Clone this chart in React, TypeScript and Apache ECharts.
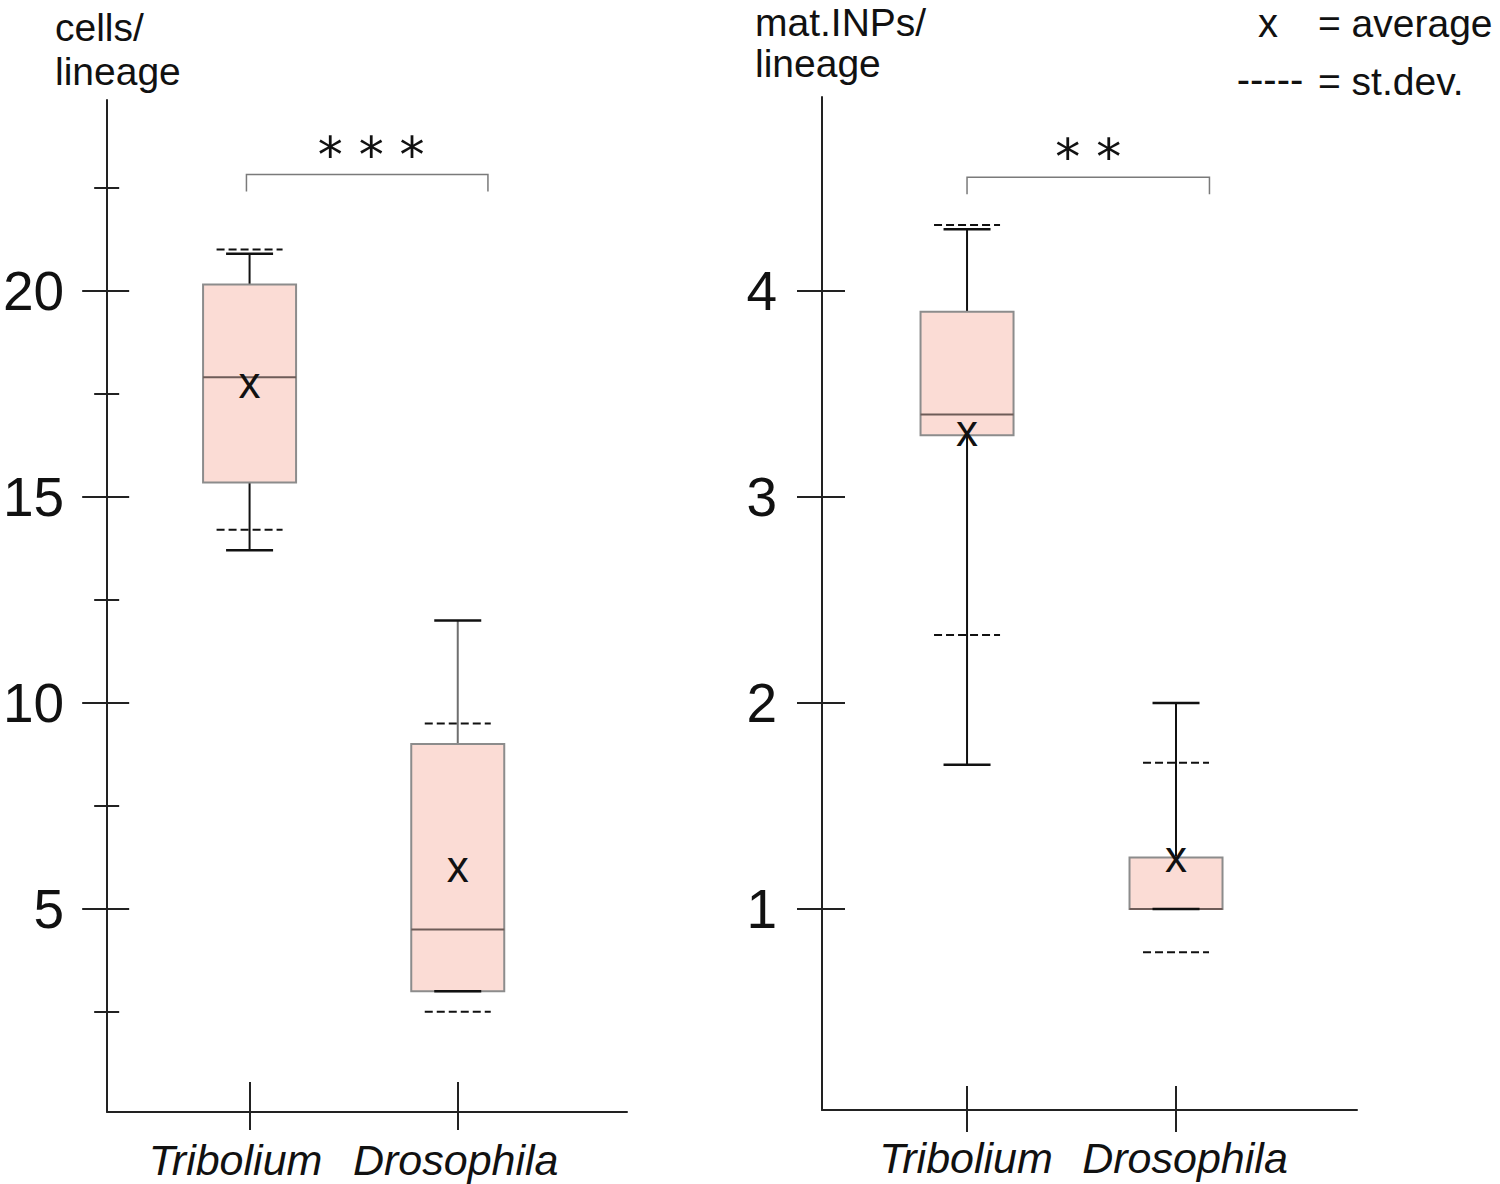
import React, { useEffect, useRef } from 'react';
import * as echarts from 'echarts';

// ---------- data ----------
const categories = ['Tribolium', 'Drosophila'];
const categoryPos = [1, 2];

// cells / lineage
const cellsWhiskerLow = [13.7, 3.0];
const cellsQ1 = [15.35, 3.0];
const cellsMedian = [17.9, 4.5];
const cellsQ3 = [20.15, 9.0];
const cellsWhiskerHigh = [20.9, 12.0];
const cellsSdLow = [14.2, 2.5];
const cellsSdHigh = [21.0, 9.5];
const cellsMean = [17.7, 5.95];

// mat.INPs / lineage
const inpWhiskerLow = [1.7, 1.0];
const inpQ1 = [3.3, 1.0];
const inpMedian = [3.4, 1.0];
const inpQ3 = [3.9, 1.25];
const inpWhiskerHigh = [4.3, 2.0];
const inpSdLow = [2.33, 0.79];
const inpSdHigh = [4.32, 1.71];
const inpMean = [3.31, 1.24];

// tick labels
const cellsTicks = [5, 10, 15, 20];
const cellsMinorTicks = [2.5, 7.5, 12.5, 17.5, 22.5];
const inpTicks = [1, 2, 3, 4];

// significance brackets [from, to, level]
const cellsBracket = [0.985, 2.145, 22.82];
const inpBracket = [1.0, 2.16, 4.553];
const significance = ['* * *', '* *'];

// ---------- styles ----------
const FONT = 'Liberation Sans';
const INK = '#111111';
const BOX_FILL = '#fbdcd5';
const BOX_STROKE = '#8c8c8c';
const MEDIAN_STROKE = '#6e5c58';
const cellsWhiskerColors = ['#111111', '#6f6f6f'];
const inpWhiskerColors = ['#111111', '#111111'];
// horizontal nudges of the category labels (px), per panel
const cellsLabelShift = [-14, -2];
const inpLabelShift = [-1, 9];

function buildRows(
  wl: number[], q1: number[], md: number[], q3: number[], wh: number[],
  sl: number[], sh: number[], mn: number[]
) {
  return categoryPos.map((p, i) => [p, wl[i], q1[i], md[i], q3[i], wh[i], sl[i], sh[i], mn[i]]);
}

function makeBoxRenderer(whiskerColors: string[]) {
  return (params: any, api: any) => {
    const xv = api.value(0);
    const cx = api.coord([xv, api.value(1)])[0];
    const y = (i: number) => api.coord([xv, api.value(i)])[1];
    const yWl = y(1), yQ1 = y(2), yMd = y(3), yQ3 = y(4), yWh = y(5), ySl = y(6), ySh = y(7), yMn = y(8);
    const hb = 46.5;
    const hc = 23.5;
    const hd = 33;
    const wc = whiskerColors[params.dataIndex] || INK;
    const line = (x1: number, y1: number, x2: number, y2: number, style: any) => ({
      type: 'line',
      shape: { x1, y1, x2, y2 },
      style,
    });
    return {
      type: 'group',
      children: [
        line(cx, yQ3, cx, yWh, { stroke: wc, lineWidth: 2 }),
        line(cx, yQ1, cx, yWl, { stroke: wc, lineWidth: 2 }),
        {
          type: 'rect',
          shape: { x: cx - hb, y: yQ3, width: hb * 2, height: yQ1 - yQ3 },
          style: { fill: BOX_FILL, stroke: BOX_STROKE, lineWidth: 2 },
        },
        line(cx - hb, yMd, cx + hb, yMd, { stroke: MEDIAN_STROKE, lineWidth: 2 }),
        line(cx - hc, yWh, cx + hc, yWh, { stroke: INK, lineWidth: 2.5 }),
        line(cx - hc, yWl, cx + hc, yWl, { stroke: INK, lineWidth: 2.5 }),
        line(cx - hd, ySh, cx + hd, ySh, { stroke: INK, lineWidth: 2, lineDash: [8, 4] }),
        line(cx - hd, ySl, cx + hd, ySl, { stroke: INK, lineWidth: 2, lineDash: [8, 4] }),
        {
          type: 'text',
          x: cx,
          y: yMn - 3,
          style: {
            text: 'x', fontSize: 44, fontFamily: FONT, fill: INK,
            align: 'center', verticalAlign: 'middle',
          },
        },
      ],
    };
  };
}

function makeBracketRenderer(labelIndex: number) {
  return (params: any, api: any) => {
    const p1 = api.coord([api.value(0), api.value(2)]);
    const p2 = api.coord([api.value(1), api.value(2)]);
    const drop = 17;
    return {
      type: 'group',
      children: [
        {
          type: 'polyline',
          shape: { points: [[p1[0], p1[1] + drop], [p1[0], p1[1]], [p2[0], p2[1]], [p2[0], p2[1] + drop]] },
          style: { stroke: '#7a7a7a', lineWidth: 1.5, fill: 'none' },
        },
        {
          type: 'text',
          x: (p1[0] + p2[0]) / 2 + (labelIndex === 0 ? 4 : 0),
          y: p1[1] - 20,
          style: {
            text: significance[labelIndex], fontSize: 50, fontFamily: 'DejaVu Sans', fill: INK,
            align: 'center', verticalAlign: 'middle',
          },
        },
      ],
    };
  };
}

function catXAxis(gridIndex: number, min: number, max: number, inside: boolean, len: number, shifts: number[]) {
  const rich: any = {};
  shifts.forEach((s, i) => {
    rich['c' + i] = {
      fontSize: 43,
      fontStyle: 'italic',
      fontFamily: FONT,
      color: INK,
      padding: s < 0 ? [0, -2 * s, 0, 0] : [0, 0, 0, 2 * s],
    };
  });
  return {
    type: 'value',
    gridIndex,
    position: 'bottom',
    min,
    max,
    axisLine: { show: !inside, onZero: false, lineStyle: { color: '#222', width: 2 } },
    axisTick: { show: true, inside, length: len, customValues: categoryPos, lineStyle: { color: '#222', width: 2 } },
    axisLabel: {
      show: !inside,
      customValues: categoryPos,
      formatter: (v: number) => {
        const i = categoryPos.indexOf(v);
        return i < 0 ? '' : `{c${i}|${categories[i]}}`;
      },
      rich,
      fontSize: 43,
      fontStyle: 'italic',
      fontFamily: FONT,
      color: INK,
      margin: 26,
    },
    splitLine: { show: false },
  };
}

function valYAxis(
  gridIndex: number, min: number, max: number, ticks: number[], inside: boolean, len: number,
  showLine: boolean, showLabel: boolean, margin: number
) {
  return {
    type: 'value',
    gridIndex,
    position: 'left',
    min,
    max,
    axisLine: { show: showLine, onZero: false, lineStyle: { color: '#222', width: 2 } },
    axisTick: { show: true, inside, length: len, customValues: ticks, lineStyle: { color: '#222', width: 2 } },
    axisLabel: {
      show: showLabel,
      customValues: ticks,
      fontSize: 55,
      fontFamily: FONT,
      color: INK,
      margin,
    },
    splitLine: { show: false },
  };
}

export default function App() {
  const ref = useRef<HTMLDivElement>(null);

  useEffect(() => {
    if (!ref.current) return;
    const chart = echarts.init(ref.current, undefined, { renderer: 'svg' });

    const cellsRows = buildRows(cellsWhiskerLow, cellsQ1, cellsMedian, cellsQ3, cellsWhiskerHigh, cellsSdLow, cellsSdHigh, cellsMean);
    const inpRows = buildRows(inpWhiskerLow, inpQ1, inpMedian, inpQ3, inpWhiskerHigh, inpSdLow, inpSdHigh, inpMean);

    const label = (text: string, x: number, y: number, align = 'left', fontSize = 39) => ({
      type: 'text',
      x,
      y,
      style: {
        text, fontSize, fontFamily: FONT, fill: INK, align, verticalAlign: 'middle',
        lineHeight: Math.round(fontSize * 0.9),
      },
    });

    chart.setOption({
      animation: false,
      backgroundColor: '#ffffff',
      grid: [
        { left: 105, top: 100, width: 522, height: 1012 },
        { left: 822, top: 97, width: 535, height: 1013 },
      ],
      xAxis: [
        catXAxis(0, 0.316, 2.813, false, 18, cellsLabelShift),
        catXAxis(0, 0.316, 2.813, true, 30, cellsLabelShift),
        catXAxis(1, 0.306, 2.866, false, 22, inpLabelShift),
        catXAxis(1, 0.306, 2.866, true, 24, inpLabelShift),
      ],
      yAxis: [
        valYAxis(0, 0.07, 24.63, cellsTicks, false, 25, true, true, 43),
        valYAxis(0, 0.07, 24.63, cellsTicks, true, 22, false, false, 43),
        valYAxis(0, 0.07, 24.63, cellsMinorTicks, false, 13, false, false, 43),
        valYAxis(0, 0.07, 24.63, cellsMinorTicks, true, 12, false, false, 43),
        valYAxis(1, 0.024, 4.942, inpTicks, false, 25, true, true, 45),
        valYAxis(1, 0.024, 4.942, inpTicks, true, 23, false, false, 45),
      ],
      series: [
        {
          type: 'custom',
          xAxisIndex: 0,
          yAxisIndex: 0,
          renderItem: makeBoxRenderer(cellsWhiskerColors),
          encode: { x: 0, y: [1, 2, 3, 4, 5, 6, 7, 8] },
          data: cellsRows,
        },
        {
          type: 'custom',
          xAxisIndex: 2,
          yAxisIndex: 4,
          renderItem: makeBoxRenderer(inpWhiskerColors),
          encode: { x: 0, y: [1, 2, 3, 4, 5, 6, 7, 8] },
          data: inpRows,
        },
        {
          type: 'custom',
          xAxisIndex: 0,
          yAxisIndex: 0,
          renderItem: makeBracketRenderer(0),
          encode: { x: [0, 1], y: 2 },
          data: [cellsBracket],
        },
        {
          type: 'custom',
          xAxisIndex: 2,
          yAxisIndex: 4,
          renderItem: makeBracketRenderer(1),
          encode: { x: [0, 1], y: 2 },
          data: [inpBracket],
        },
      ],
      graphic: [
        label('cells/', 55, 27),
        label('lineage', 55, 71),
        label('mat.INPs/', 755, 22),
        label('lineage', 755, 63),
        label('x', 1268, 23, 'center', 40),
        label('= average', 1318, 23, 'left', 39),
        label('-----', 1270, 79, 'center', 40),
        label('= st.dev.', 1318, 81, 'left', 39),
      ],
    });

    return () => chart.dispose();
  }, []);

  return (
    <div
      ref={ref}
      style={{ position: 'absolute', left: 0, top: 0, width: 1500, height: 1184, background: '#fff' }}
    />
  );
}
